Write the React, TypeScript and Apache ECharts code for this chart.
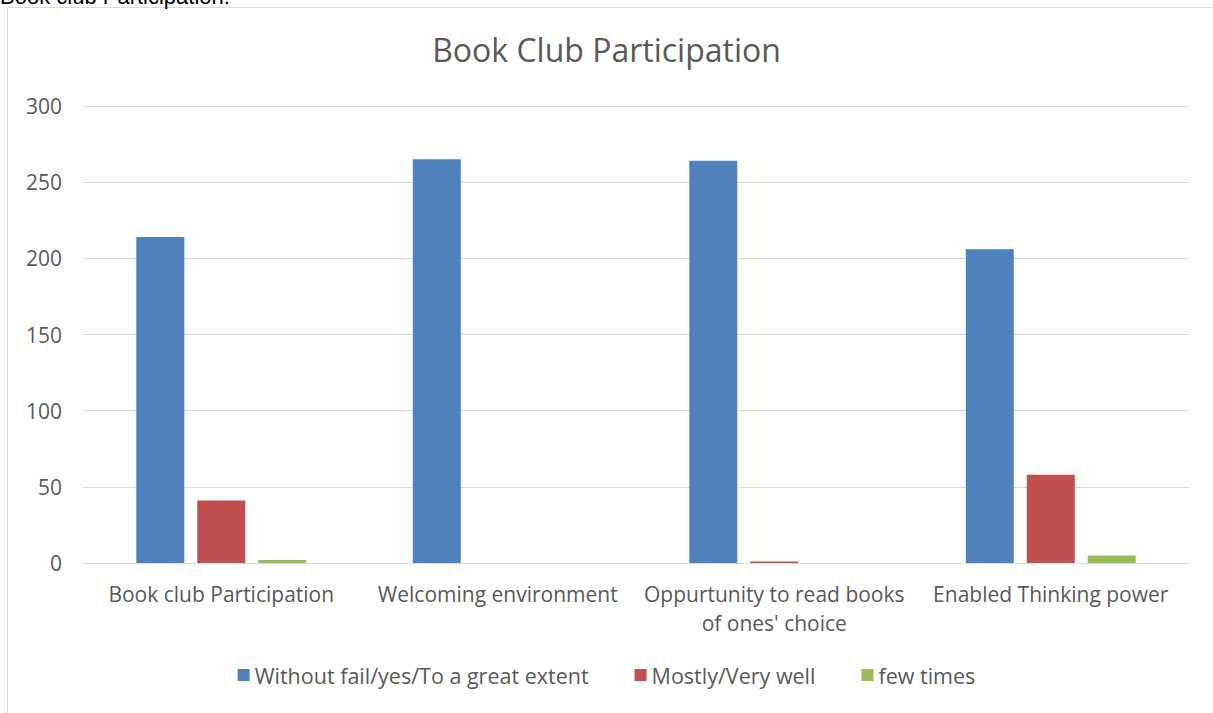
import React, { useEffect, useRef } from "react";
import * as echarts from "echarts";

const categories = [
  "Book club Participation",
  "Welcoming environment",
  "Oppurtunity to read books\nof ones' choice",
  "Enabled Thinking power",
];
const seriesNames = ["Without fail/yes/To a great extent", "Mostly/Very well", "few times"];
const withoutFail = [214, 265, 264, 206];
const mostly = [41, 0, 1, 58];
const fewTimes = [2, 0, 0, 5];
const colors = ["#4f81bd", "#c0504d", "#9bbb59"];
const yTicks = { min: 0, max: 300, interval: 50 };

const FONT = "Open Sans";

export default function App() {
  const ref = useRef<HTMLDivElement>(null);
  useEffect(() => {
    const chart = echarts.init(ref.current!, null, { renderer: "svg" });
    const values = [withoutFail, mostly, fewTimes];
    chart.setOption({
      animation: false,
      backgroundColor: "#ffffff",
      textStyle: { fontFamily: FONT },
      title: {
        text: "Book Club Participation",
        left: "center",
        top: 28,
        textStyle: { fontFamily: FONT, fontSize: 32, fontWeight: "normal", color: "#595959" },
      },
      graphic: [
        {
          type: "rect",
          shape: { x: 7.5, y: 7.5, width: 1300, height: 800 },
          style: { fill: "none", stroke: "#d9d9d9", lineWidth: 1 },
          silent: true,
        },
        {
          type: "text",
          x: 0,
          y: 7,
          style: {
            text: "Book club Participation:",
            font: "22px 'Liberation Sans'",
            fill: "#000000",
            textVerticalAlign: "bottom",
          },
        },
      ],
      legend: {
        bottom: 22,
        left: "center",
        itemWidth: 12,
        itemHeight: 12,
        itemGap: 46,
        icon: "rect",
        textStyle: { fontFamily: FONT, fontSize: 21.5, color: "#595959" },
        data: seriesNames,
      },
      grid: { left: 83, right: 24, top: 106, bottom: 150, containLabel: false },
      xAxis: {
        type: "category",
        data: categories,
        axisLine: { lineStyle: { color: "#d9d9d9", width: 1 } },
        axisTick: { show: false },
        axisLabel: {
          color: "#595959",
          fontFamily: FONT,
          fontSize: 21,
          margin: 16,
          lineHeight: 29,
          interval: 0,
        },
      },
      yAxis: {
        type: "value",
        min: yTicks.min,
        max: yTicks.max,
        interval: yTicks.interval,
        axisLine: { show: false },
        axisTick: { show: false },
        splitLine: { lineStyle: { color: "#d9d9d9", width: 1 } },
        axisLabel: { color: "#595959", fontFamily: FONT, fontSize: 21, margin: 21 },
      },
      series: seriesNames.map((name, i) => ({
        name,
        type: "bar",
        data: values[i],
        barWidth: 48,
        barGap: "27%",
        itemStyle: { color: colors[i] },
      })),
    });
    return () => chart.dispose();
  }, []);
  return (
    <div
      ref={ref}
      style={{ position: "absolute", left: 0, top: 0, width: 1213, height: 713 }}
    />
  );
}
